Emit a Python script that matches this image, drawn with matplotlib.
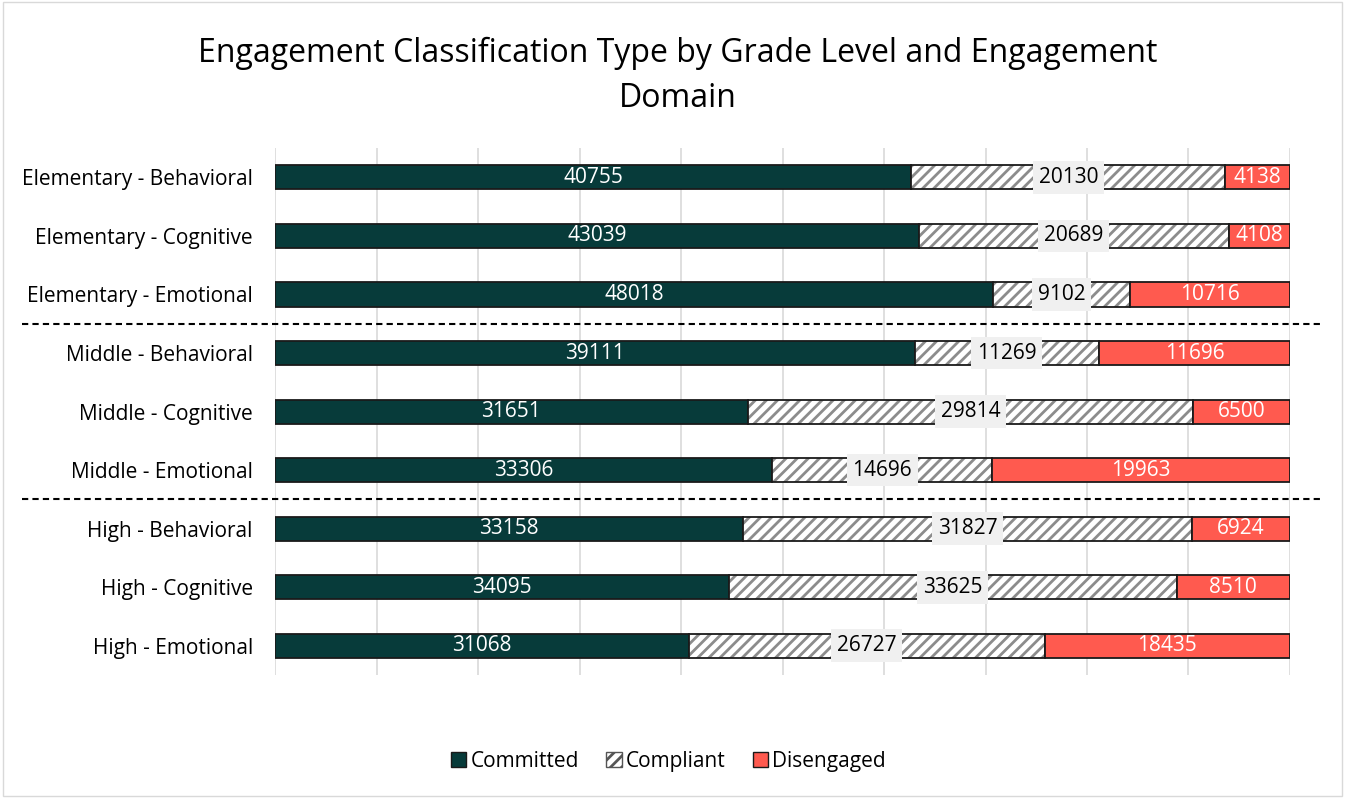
import numpy as np
import matplotlib.pyplot as plt
from matplotlib.patches import Patch

plt.rcParams['font.family'] = ['Open Sans', 'DejaVu Sans']
plt.rcParams['hatch.linewidth'] = 2.0

groups = ['Elementary - Behavioral', 'Elementary - Cognitive', 'Elementary - Emotional',
          'Middle - Behavioral', 'Middle - Cognitive', 'Middle - Emotional',
          'High - Behavioral', 'High - Cognitive', 'High - Emotional']
committed = [40755, 43039, 48018, 39111, 31651, 33306, 33158, 34095, 31068]
compliant = [20130, 20689, 9102, 11269, 29814, 14696, 31827, 33625, 26727]
disengaged = [4138, 4108, 10716, 11696, 6500, 19963, 6924, 8510, 18435]

c_comm = '#073b3a'
c_dis = '#ff5a4f'
c_hatch = '#8c8c8c'

com = np.array(committed, float)
cpl = np.array(compliant, float)
dis = np.array(disengaged, float)
tot = com + cpl + dis
p_com = com / tot
p_cpl = cpl / tot
p_dis = dis / tot

fig = plt.figure(figsize=(13.45, 7.98), dpi=100)
ax = fig.add_axes([0.2045, 0.154, 0.7546, 0.6604])

y = np.arange(len(groups))
h = 0.41
fs = 15
ax.barh(y, p_com, h, color=c_comm, edgecolor='#1a1a1a', linewidth=1.3, zorder=3)
# hatch first (gray), outline on top
ax.barh(y, p_cpl, h, left=p_com, color='white', edgecolor=c_hatch, hatch='///',
        linewidth=0, zorder=3)
ax.barh(y, p_cpl, h, left=p_com, fill=False, edgecolor='#1a1a1a', linewidth=1.3, zorder=3)
ax.barh(y, p_dis, h, left=p_com + p_cpl, color=c_dis, edgecolor='#1a1a1a', linewidth=1.3, zorder=3)

for i in range(len(groups)):
    ax.text(p_com[i] / 2, i, str(committed[i]), ha='center', va='center',
            color='white', fontsize=fs, zorder=5)
    ax.text(p_com[i] + p_cpl[i] / 2, i, str(compliant[i]), ha='center', va='center',
            color='black', fontsize=fs, zorder=5,
            bbox=dict(boxstyle='square,pad=0.28', fc='#f0f0f0', ec='none'))
    ax.text(p_com[i] + p_cpl[i] + p_dis[i] / 2, i, str(disengaged[i]), ha='center',
            va='center', color='white', fontsize=fs, zorder=5)

for yy in [2.5, 5.5]:
    ax.plot([-0.249, 1.0315], [yy, yy], transform=ax.get_yaxis_transform(),
            color='black', linestyle=(0, (3, 2)), linewidth=1.5, clip_on=False, zorder=4)

ax.set_xlim(0, 1)
ax.set_ylim(8.5, -0.5)
ax.set_xticks(np.arange(0, 1.01, 0.1))
ax.set_xticklabels([])
ax.xaxis.grid(True, color='#d9d9d9', linewidth=1.2, zorder=0)
ax.set_yticks(y)
ax.set_yticklabels(groups, fontsize=fs)
ax.tick_params(axis='both', length=0, pad=16)
for s in ax.spines.values():
    s.set_visible(False)

fig.text(0.504, 0.905, 'Engagement Classification Type by Grade Level and Engagement\nDomain',
         ha='center', va='center', fontsize=23, linespacing=1.45)

handles = [Patch(fc=c_comm, ec='#1a1a1a', label='Committed'),
           Patch(fc='white', ec='#555555', hatch='///', label='Compliant'),
           Patch(fc=c_dis, ec='#1a1a1a', label='Disengaged')]
fig.legend(handles=handles, loc='center', bbox_to_anchor=(0.497, 0.046), ncol=3,
           frameon=False, fontsize=fs, handlelength=0.75, handleheight=0.75,
           handletextpad=0.2, columnspacing=1.3)

border = plt.Rectangle((0.002, 0.002), 0.996, 0.996, transform=fig.transFigure,
                       fill=False, ec='#d9d9d9', lw=1)
fig.patches.append(border)

fig.savefig('out.png', dpi=100)
